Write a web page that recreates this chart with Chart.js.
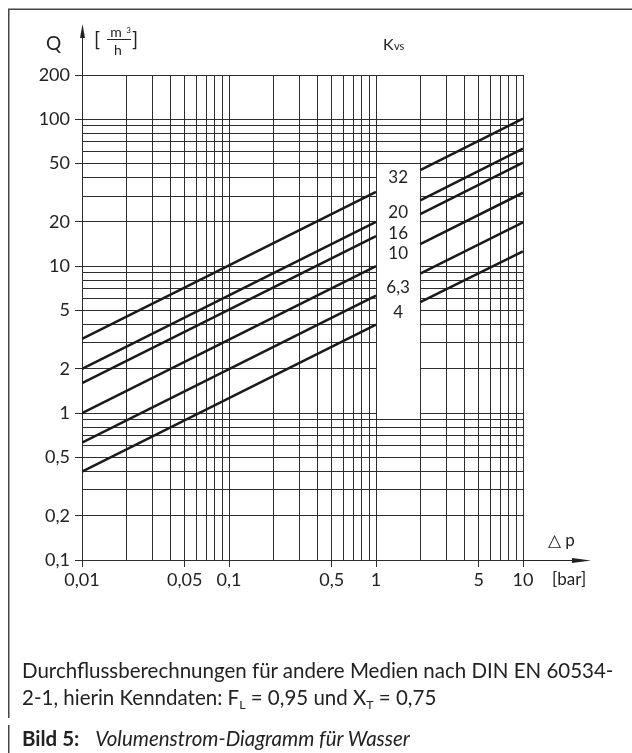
<!DOCTYPE html>
<html lang="de">
<head>
<meta charset="utf-8">
<title>Volumenstrom-Diagramm für Wasser</title>
<script src="https://cdn.jsdelivr.net/npm/chart.js@4.4.1/dist/chart.umd.min.js"></script>
<style>
  html, body { margin: 0; padding: 0; background: #fff; }
  #wrap { position: relative; width: 632px; height: 753px; overflow: hidden; }
  #chart { position: absolute; left: 0; top: 0; }
  .note { position: absolute; left: 22px; font-family: Lato, sans-serif; font-size: 20.5px; line-height: 24px; color: #222; white-space: nowrap; }
  .note sub { font-size: 60%; vertical-align: -0.3em; line-height: 0; }
</style>
</head>
<body>
<div id="wrap">
  <canvas id="chart" width="632" height="753"></canvas>
  <div class="note" style="top:658px">Durchflussberechnungen für andere Medien nach DIN EN 60534-</div>
  <div class="note" style="top:685px">2-1, hierin Kenndaten: F<sub>L</sub> = 0,95 und X<sub>T</sub> = 0,75</div>
  <div class="note" style="top:726px"><b>Bild 5:</b>&nbsp;&nbsp; <i>Volumenstrom-Diagramm für Wasser</i></div>
</div>
<script>
const kvsLabels = ['32', '20', '16', '10', '6,3', '4'];
const qAt001 = [3.2, 2.0, 1.6, 1.0, 0.63, 0.4];
const qAt1 = [32, 20, 16, 10, 6.3, 4];
const qAt2 = [45, 28, 22.6, 14.1, 8.9, 5.7];
const qAt10 = [101, 63, 50.6, 31.6, 19.9, 12.6];
// Höhe der Kvs-Beschriftung in der Lücke (Q-Werte)
const labelQ = [40, 23.3, 16.7, 12.1, 7.2, 4.8];

// Gitterlinien und beschriftete Werte
const xGrid = [0.01, 0.02, 0.03, 0.04, 0.05, 0.06, 0.07, 0.08, 0.09,
  0.1, 0.2, 0.3, 0.4, 0.5, 0.6, 0.7, 0.8, 0.9,
  1, 2, 3, 4, 5, 6, 7, 8, 9, 10];
const yGrid = [0.1, 0.2, 0.3, 0.4, 0.5, 0.6, 0.7, 0.8, 0.9,
  1, 2, 3, 4, 5, 6, 7, 8, 9,
  10, 20, 30, 40, 50, 60, 70, 80, 90, 100, 200];
const xTickLabels = [0.01, 0.05, 0.1, 0.5, 1, 5, 10];
const yTickLabels = [0.1, 0.2, 0.5, 1, 2, 5, 10, 20, 50, 100, 200];

// Lücke im Diagramm zwischen 1 und 2 bar
const gapX = [1, 2];
const gapY = [0.9, 50];

const FONT = 'Lato, sans-serif';
const INK = '#222';
const GRID = '#2e2e2e';

function hasLabel(list, v) {
  return list.some(t => Math.abs(t - v) <= t * 1e-6);
}

function fmt(v) {
  return String(v).replace('.', ',');
}

const datasets = [];
for (let i = 0; i < kvsLabels.length; i++) {
  datasets.push({
    label: 'Kvs ' + kvsLabels[i],
    data: [{x: 0.01, y: qAt001[i]}, {x: 1, y: qAt1[i]}]
  });
  datasets.push({
    label: 'Kvs ' + kvsLabels[i] + ' (2-10 bar)',
    data: [{x: 2, y: qAt2[i]}, {x: 10, y: qAt10[i]}]
  });
}

function px(v) {
  return Math.round(v - 0.5);
}

const diagramPlugin = {
  id: 'diagram',
  beforeDraw(chart) {
    const c = chart.ctx;
    c.save();
    c.strokeStyle = '#444';
    c.lineWidth = 1.5;
    c.beginPath();
    c.moveTo(8, 9.25);
    c.lineTo(632, 9.25);
    c.moveTo(8.75, 9);
    c.lineTo(8.75, 718);
    c.moveTo(8.75, 725);
    c.lineTo(8.75, 753);
    c.stroke();
    c.restore();
  },
  beforeDatasetsDraw(chart) {
    const x = chart.scales.x, y = chart.scales.y;
    const c = chart.ctx;
    const left = px(x.getPixelForValue(gapX[0])) + 1;
    const right = px(x.getPixelForValue(gapX[1]));
    const top = px(y.getPixelForValue(gapY[1])) + 1;
    const bottom = px(y.getPixelForValue(gapY[0]));
    c.save();
    c.fillStyle = '#fff';
    c.fillRect(left, top, right - left, bottom - top);
    c.restore();
  },
  afterDraw(chart) {
    const x = chart.scales.x, y = chart.scales.y;
    const area = chart.chartArea;
    const c = chart.ctx;
    c.save();
    c.fillStyle = INK;
    c.strokeStyle = '#222';

    // Pfeil der Q-Achse
    const ax = px(area.left) + 0.5;
    c.lineWidth = 1;
    c.beginPath();
    c.moveTo(ax, area.top);
    c.lineTo(ax, 32);
    c.stroke();
    c.beginPath();
    c.moveTo(ax, 24);
    c.lineTo(ax - 2.5, 38);
    c.lineTo(ax + 2.5, 38);
    c.closePath();
    c.fill();

    // Pfeil der Δp-Achse
    const ay = px(area.bottom) + 0.5;
    c.beginPath();
    c.moveTo(area.right, ay);
    c.lineTo(580, ay);
    c.stroke();
    c.beginPath();
    c.moveTo(591, ay);
    c.lineTo(572, ay - 2.5);
    c.lineTo(572, ay + 2.5);
    c.closePath();
    c.fill();

    // Achsentitel
    c.textBaseline = 'alphabetic';
    c.textAlign = 'left';
    c.font = '19px ' + FONT;
    c.fillText('Q', 46, 50);
    c.font = '20px ' + FONT;
    c.fillText('[', 94, 46);
    c.fillText(']', 132, 46);
    c.font = '14px ' + FONT;
    c.textAlign = 'center';
    c.fillText('m', 116, 37);
    c.fillText('h', 118, 55);
    c.font = '8px ' + FONT;
    c.fillText('3', 128.5, 33);
    c.lineWidth = 1;
    c.beginPath();
    c.moveTo(107, 39.5);
    c.lineTo(131, 39.5);
    c.stroke();

    c.textAlign = 'left';
    c.font = '16px ' + FONT;
    c.fillText('K', 383, 50);
    c.font = '11px ' + FONT;
    c.fillText('vs', 394, 50);

    c.font = '17px ' + FONT;
    c.fillText('\u25B3 p', 548, 546);
    c.fillText('[bar]', 552, 585);

    // Kvs-Werte in der Lücke
    c.font = '17px ' + FONT;
    c.textAlign = 'center';
    c.textBaseline = 'middle';
    const cx = (x.getPixelForValue(gapX[0]) + x.getPixelForValue(gapX[1])) / 2;
    for (let i = 0; i < kvsLabels.length; i++) {
      c.fillText(kvsLabels[i], cx, y.getPixelForValue(labelQ[i]));
    }
    c.restore();
  }
};

new Chart(document.getElementById('chart'), {
  type: 'line',
  data: { datasets: datasets },
  options: {
    responsive: false,
    animation: false,
    devicePixelRatio: 1,
    spanGaps: false,
    layout: { padding: { top: 75, right: 109, bottom: 153, left: 0 } },
    elements: {
      line: { borderColor: '#1a1a1a', borderWidth: 2.5, tension: 0, fill: false },
      point: { radius: 0, hoverRadius: 0 }
    },
    plugins: {
      legend: { display: false },
      tooltip: { enabled: false },
      title: { display: false }
    },
    scales: {
      x: {
        type: 'logarithmic',
        min: 0.01,
        max: 10,
        afterBuildTicks: (scale) => { scale.ticks = xGrid.map(v => ({ value: v })); },
        afterFit: (scale) => { scale.height = 40; },
        grid: {
          color: GRID,
          lineWidth: 1,
          drawTicks: true,
          tickLength: 7,
          tickColor: (ctx) => (ctx.tick && hasLabel(xTickLabels, ctx.tick.value)) ? GRID : 'rgba(0,0,0,0)'
        },
        border: { display: true, color: GRID, width: 1 },
        ticks: {
          autoSkip: false,
          maxRotation: 0,
          minRotation: 0,
          padding: 2,
          color: INK,
          font: { family: FONT, size: 18 },
          callback: (v) => hasLabel(xTickLabels, v) ? fmt(v) : ''
        }
      },
      y: {
        type: 'logarithmic',
        min: 0.1,
        max: 200,
        afterBuildTicks: (scale) => { scale.ticks = yGrid.map(v => ({ value: v })); },
        afterFit: (scale) => { scale.width = 82; },
        grid: {
          color: GRID,
          lineWidth: 1,
          drawTicks: true,
          tickLength: 7,
          tickColor: (ctx) => (ctx.tick && hasLabel(yTickLabels, ctx.tick.value)) ? GRID : 'rgba(0,0,0,0)'
        },
        border: { display: true, color: GRID, width: 1 },
        ticks: {
          autoSkip: false,
          padding: 5,
          color: INK,
          font: { family: FONT, size: 18 },
          callback: (v) => hasLabel(yTickLabels, v) ? fmt(v) : ''
        }
      }
    }
  },
  plugins: [diagramPlugin]
});
</script>
</body>
</html>
